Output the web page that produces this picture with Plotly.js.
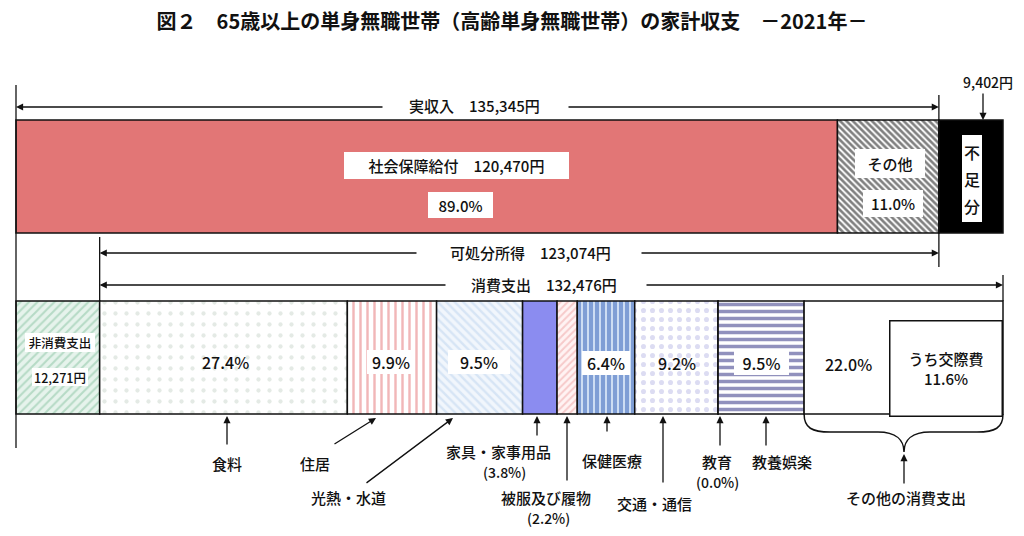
<!DOCTYPE html>
<html><head><meta charset="utf-8">
<script src="https://cdn.plot.ly/plotly-3.0.1.min.js"></script>
<style>html,body{margin:0;padding:0;background:#fff}#chart{width:1024px;height:536px}</style>
</head><body><div id="chart"></div>
<script>
// ---------------- data ----------------
const titleText = '図２　65歳以上の単身無職世帯（高齢単身無職世帯）の家計収支　－2021年－';
const incomeLabels = ['社会保障給付', 'その他'];
const incomeValues = [120470, 14875];
const incomePct = ['89.0%', '11.0%'];
const shortfallLabel = '不足分';
const shortfallValue = 9402;
const nonConsLabel = '非消費支出';
const nonConsValue = 12271;
const consLabels = ['食料', '住居', '光熱・水道', '家具・家事用品', '被服及び履物', '保健医療', '交通・通信', '教育', '教養娯楽', 'その他の消費支出'];
const consValues = [36322, 13090, 12610, 5056, 2962, 8429, 12213, 15, 12609, 29170];
const consPct = ['27.4%', '9.9%', '9.5%', '3.8%', '2.2%', '6.4%', '9.2%', '0.0%', '9.5%', '22.0%'];
const kosaihiLabel = 'うち交際費';
const kosaihiPct = '11.6%';

// ---------------- derived ----------------
const sum = a => a.reduce((s, v) => s + v, 0);
const realIncome = sum(incomeValues);
const disposable = realIncome - nonConsValue;
const consTotal = sum(consValues);
const total = realIncome + shortfallValue;
const fmt = v => v.toLocaleString('en-US');

// pixel helpers (layout only)
const PX0 = 16, PXW = 987;
const k = total / PXW;
const px2x = p => (p - PX0) * k;
const x2px = x => x / k + PX0;

const FONT = '"Noto Sans CJK JP", "Noto Sans", sans-serif';
const INK = '#111111';
const LINE = {color: '#111', width: 1.5};

// ---------------- styles ----------------
const incomeStyles = [
  {color: '#E27676'},
  {color: '#ffffff', pattern: {shape: '\\', fgcolor: '#000000', size: 4.5, solidity: 0.58, fillmode: 'overlay'}}
];
const shortfallStyle = {color: '#000000'};
const nonConsStyle = {color: '#e6f3ec', pattern: {shape: '/', fgcolor: '#86c29f', size: 6, solidity: 0.35, fillmode: 'overlay'}};
const consStyles = [
  {color: '#ffffff', pattern: {shape: '.', fgcolor: '#c9d6cc', size: 11, solidity: 0.12, fillmode: 'overlay'}},
  {color: '#ffffff', pattern: {shape: '|', fgcolor: '#e46f72', size: 7, solidity: 0.35, fillmode: 'overlay'}},
  {color: '#f1f6fc', pattern: {shape: '\\', fgcolor: '#bcd3ee', size: 6, solidity: 0.4, fillmode: 'overlay'}},
  {color: '#8b8cf0'},
  {color: '#fff3f3', pattern: {shape: '/', fgcolor: '#eea1a1', size: 5, solidity: 0.4, fillmode: 'overlay'}},
  {color: '#d6e4f7', pattern: {shape: '|', fgcolor: '#2858b4', size: 6, solidity: 0.7, fillmode: 'overlay'}},
  {color: '#ffffff', pattern: {shape: '.', fgcolor: '#b9b9e6', size: 9, solidity: 0.25, fillmode: 'overlay'}},
  {color: '#ffffff'},
  {color: '#ffffff', pattern: {shape: '-', fgcolor: '#23237c', size: 7, solidity: 0.5, fillmode: 'overlay'}},
  {color: '#ffffff'}
];

// ---------------- bars ----------------
const TOP_Y = 176.5, TOP_W = 113;
const BOT_Y = 357.5, BOT_W = 113;
const traces = [];
function bar(name, base, value, y, w, style) {
  traces.push({
    type: 'bar', orientation: 'h', name: name,
    x: [value], base: [base], y: [y], width: [w],
    marker: Object.assign({line: LINE}, style),
    hoverinfo: 'name+x', showlegend: false
  });
}
let acc = 0;
incomeValues.forEach((v, i) => { bar(incomeLabels[i], acc, v, TOP_Y, TOP_W, incomeStyles[i]); acc += v; });
bar(shortfallLabel, acc, shortfallValue, TOP_Y, TOP_W, shortfallStyle);

const consEdges = [];
acc = 0;
bar(nonConsLabel, acc, nonConsValue, BOT_Y, BOT_W, nonConsStyle);
acc += nonConsValue;
consValues.forEach((v, i) => {
  consEdges.push([acc, acc + v]);
  bar(consLabels[i], acc, v, BOT_Y, BOT_W, consStyles[i]);
  acc += v;
});

// ---------------- annotations ----------------
const ann = [];
const shapes = [];
function txt(px, py, text, o) {
  o = o || {};
  ann.push({
    x: px2x(px), y: py, xref: 'x', yref: 'y', text: text, showarrow: false,
    xanchor: 'center', yanchor: 'middle',
    font: {family: FONT, size: o.size || 15, color: INK, weight: 500}
  });
}
function box(px, py, text, w, h, o) {
  o = o || {};
  ann.push({
    x: px2x(px), y: py, xref: 'x', yref: 'y', text: text, showarrow: false,
    xanchor: 'center', yanchor: 'middle', width: w, height: h,
    bgcolor: '#ffffff', borderpad: 0, align: 'center', valign: 'middle',
    bordercolor: o.border ? '#111' : 'rgba(0,0,0,0)', borderwidth: o.border ? 1.5 : 0,
    font: {family: FONT, size: o.size || 15, color: INK, weight: 500}
  });
}
function arrowX(tipX, tipPy, tailX, tailPy) {
  ann.push({
    x: tipX, y: tipPy, ax: tailX, ay: tailPy, xref: 'x', yref: 'y', axref: 'x', ayref: 'y',
    text: '', showarrow: true, arrowhead: 2, arrowsize: 1.1, arrowwidth: 1.3, arrowcolor: INK
  });
}
const arrow = (tpx, tpy, spx, spy) => arrowX(px2x(tpx), tpy, px2x(spx), spy);

// spans
arrowX(0, 107, px2x(384), 107);
arrowX(realIncome, 107, px2x(567), 107);
txt(474, 105, '実収入　' + fmt(realIncome) + '円');

arrowX(nonConsValue, 253, px2x(418), 253);
arrowX(realIncome, 253, px2x(640), 253);
txt(530, 252, '可処分所得　' + fmt(disposable) + '円');

arrowX(nonConsValue, 285, px2x(447), 285);
arrowX(total, 285, px2x(645), 285);
txt(544, 284, '消費支出　' + fmt(consTotal) + '円');

txt(988, 82, fmt(shortfallValue) + '円', {size: 14});
arrow(983, 120, 983, 92);

// top bar labels
box(456, 165.5, incomeLabels[0] + '　' + fmt(incomeValues[0]) + '円', 225, 27);
box(460, 205, incomePct[0], 65, 26);
box(890, 163.5, incomeLabels[1], 70, 29);
box(893, 203.5, incomePct[1], 60, 27);
// vertical 不足分 label on a white panel
shapes.push({type: 'rect', xref: 'x', yref: 'y', x0: px2x(962), x1: px2x(982), y0: 135, y1: 222,
             fillcolor: '#ffffff', line: {width: 0}, layer: 'above'});
Array.from(shortfallLabel).forEach((ch, i) => txt(972, 152 + i * 27, ch, {size: 16}));

// bottom bar labels
box(60, 342.5, nonConsLabel, 70, 19, {size: 12.5});
box(60, 376.5, fmt(nonConsValue) + '円', 56, 18, {size: 12.5});
const pctPos = [[225, 362, 0], [391, 362, 48], [479, 362, 62], null, null, [606, 363, 48], [677, 363, 0], null, [761, 363, 55], [848, 364, 0]];
pctPos.forEach((p, i) => {
  if (!p) return;
  if (p[2]) box(p[0], p[1], consPct[i], p[2], 24, {size: 16});
  else txt(p[0], p[1], consPct[i], {size: 16});
});
box(946, 368, kosaihiLabel + '<br>' + kosaihiPct, 111, 94, {border: true, size: 15});

// category call-outs
txt(227, 463, consLabels[0]);
arrow(227, 416, 227, 446);
txt(315, 463, consLabels[1]);
arrow(376, 418, 333, 445);
txt(348, 497, consLabels[2]);
arrow(453, 418, 365, 484);
txt(498, 451, consLabels[3]);
txt(504, 472, '(' + consPct[3] + ')', {size: 14});
arrow(537, 416, 537, 437);
txt(546, 497, consLabels[4]);
txt(548, 518, '(' + consPct[4] + ')', {size: 14});
arrow(567, 416, 567, 482);
txt(612, 460, consLabels[5]);
arrow(607, 416, 607, 433);
txt(654, 503, consLabels[6]);
arrow(663, 416, 663, 484);
txt(717, 461, consLabels[7]);
txt(717, 482, '(' + consPct[7] + ')', {size: 14});
arrow(720, 416, 720, 447);
txt(782, 461, consLabels[8]);
arrow(766, 416, 766, 447);
txt(906, 497, consLabels[9]);
arrow(904, 454, 904, 485);

// ---------------- shapes ----------------
const vline = (x, y0, y1) => ({type: 'line', xref: 'x', yref: 'y', x0: x, x1: x, y0: y0, y1: y1, line: {color: INK, width: 1.3}});
shapes.push(
  vline(0, 85, 448),
  vline(realIncome, 95, 267),
  vline(nonConsValue, 237, 301),
  vline(total, 275, 301)
);
// brace under その他の消費支出
const e = consEdges[consEdges.length - 1];
const L = x2px(e[0]), R = x2px(e[1]), M = 904;
const P = (px, py) => px2x(px) + ',' + py;
const bracePath = 'M' + P(L, 414) +
  ' C' + P(L, 428) + ' ' + P(L + 8, 432) + ' ' + P(L + 26, 432) +
  ' L' + P(M - 26, 432) +
  ' C' + P(M - 8, 432) + ' ' + P(M, 440) + ' ' + P(M, 452) +
  ' C' + P(M, 440) + ' ' + P(M + 8, 432) + ' ' + P(M + 26, 432) +
  ' L' + P(R - 26, 432) +
  ' C' + P(R - 8, 432) + ' ' + P(R, 428) + ' ' + P(R, 414);
shapes.push({type: 'path', xref: 'x', yref: 'y', path: bracePath, line: {color: INK, width: 1.5}});

const layout = {
  width: 1024, height: 536,
  margin: {l: 0, r: 0, t: 0, b: 0, pad: 0},
  paper_bgcolor: '#ffffff', plot_bgcolor: '#ffffff',
  barmode: 'overlay', bargap: 0,
  font: {family: FONT, color: INK},
  title: {text: titleText, x: 0.5, xanchor: 'center', y: 1 - 22 / 536, yanchor: 'middle',
          font: {family: FONT, size: 20, color: INK, weight: 'bold'}},
  xaxis: {range: [px2x(0), px2x(1024)], visible: false, fixedrange: true},
  yaxis: {range: [536, 0], visible: false, fixedrange: true},
  annotations: ann,
  shapes: shapes,
  showlegend: false
};
Plotly.newPlot('chart', traces, layout, {displayModeBar: false, staticPlot: true});
</script></body></html>
